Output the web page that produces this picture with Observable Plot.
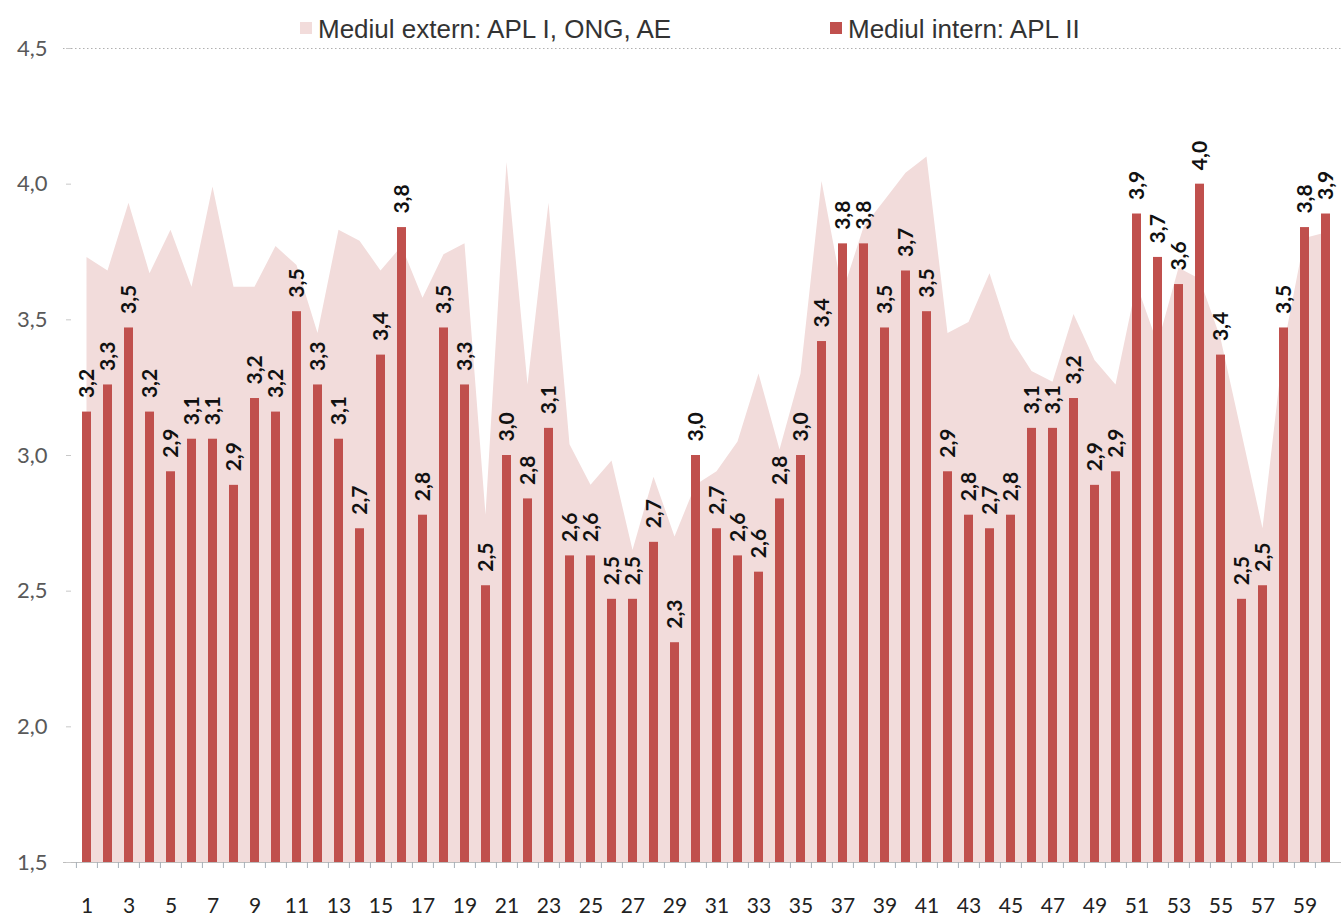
<!DOCTYPE html>
<html><head><meta charset="utf-8">
<script src="https://cdn.jsdelivr.net/npm/d3@7"></script>
<script src="https://cdn.jsdelivr.net/npm/@observablehq/plot@0.6"></script>
<style>
body{margin:0;background:#fff;}
#wrap{position:relative;width:1341px;height:918px;overflow:hidden;}
.sw{position:absolute;top:22px;width:12px;height:12px;}
.lt{position:absolute;top:16px;font-family:"Liberation Sans",Arial,sans-serif;font-size:26px;line-height:26px;color:#333;white-space:nowrap;}
#chart{position:absolute;left:0;top:0;}
</style></head><body>
<div id="wrap">
  <div id="chart"></div>
  <div class="sw" id="sw1" style="left:300px;"></div><div class="lt" id="lt1" style="left:318px;"></div>
  <div class="sw" id="sw2" style="left:830px;"></div><div class="lt" id="lt2" style="left:848px;"></div>
</div>
<script>
const categories = [1,2,3,4,5,6,7,8,9,10,11,12,13,14,15,16,17,18,19,20,21,22,23,24,25,26,27,28,29,30,
  31,32,33,34,35,36,37,38,39,40,41,42,43,44,45,46,47,48,49,50,51,52,53,54,55,56,57,58,59,60];
const xTickLabels = [1,3,5,7,9,11,13,15,17,19,21,23,25,27,29,31,33,35,37,39,41,43,45,47,49,51,53,55,57,59];
const yTicks = [1.5,2.0,2.5,3.0,3.5,4.0,4.5];
const seriesNames = ["Mediul extern: APL I, ONG, AE", "Mediul intern: APL II"];
// Mediul extern (area)
const extern = [3.73,3.68,3.93,3.67,3.83,3.62,3.99,3.62,3.62,3.77,
  3.70,3.45,3.83,3.79,3.68,3.77,3.58,3.74,3.78,2.78,
  4.08,3.26,3.93,3.04,2.89,2.98,2.65,2.92,2.70,2.89,
  2.94,3.05,3.30,3.02,3.30,4.01,3.60,3.84,3.94,4.04,
  4.10,3.45,3.49,3.67,3.43,3.31,3.27,3.52,3.35,3.26,
  3.63,3.41,3.69,3.65,3.43,3.08,2.73,3.40,3.80,3.82];
// Mediul intern (bars)
const intern = [3.16,3.26,3.47,3.16,2.94,3.06,3.06,2.89,3.21,3.16,
  3.53,3.26,3.06,2.73,3.37,3.84,2.78,3.47,3.26,2.52,
  3.00,2.84,3.10,2.63,2.63,2.47,2.47,2.68,2.31,3.00,
  2.73,2.63,2.57,2.84,3.00,3.42,3.78,3.78,3.47,3.68,
  3.53,2.94,2.78,2.73,2.78,3.10,3.10,3.21,2.89,2.94,
  3.89,3.73,3.63,4.00,3.37,2.47,2.52,3.47,3.84,3.89];
const colors = ["#f2dcdb", "#c0504d"];

document.getElementById("sw1").style.background = colors[0];
document.getElementById("sw2").style.background = colors[1];
document.getElementById("lt1").textContent = seriesNames[0];
document.getElementById("lt2").textContent = seriesNames[1];

const data = categories.map((c, i) => ({cat: c, ext: extern[i], int: intern[i]}));
const yMin = yTicks[0], yMax = yTicks[yTicks.length - 1];
const W = 1341, H = 918, mL = 71, mR = 0;
const step = (W - mL - mR) / categories.length;
const fmt = d3.formatLocale({decimal: ",", thousands: ".", grouping: [3], currency: ["", ""]}).format(".1f");

const chart = Plot.plot({
  width: W, height: H, marginLeft: mL, marginRight: mR, marginTop: 48, marginBottom: 56,
  style: {fontFamily: "Lato, sans-serif", background: "#fff", overflow: "visible"},
  x: {type: "band", domain: categories, paddingInner: 0.57, paddingOuter: 0.285, axis: null, label: null},
  y: {domain: [yMin, yMax], axis: null, label: null},
  marks: [
    Plot.areaY(data, {x: "cat", y1: yMin, y2: "ext", fill: colors[0]}),
    Plot.ruleY([yMax], {stroke: "#b0b0b0", strokeDasharray: "1.5,2.5", insetLeft: -8}),
    Plot.barY(data, {x: "cat", y1: yMin, y2: "int", fill: colors[1]}),
    Plot.text(data, {x: "cat", y: "int", text: d => fmt(d.int), rotate: -90, textAnchor: "start",
      dy: -14, fontSize: 21, fontWeight: "bold", fill: "#111"}),
    Plot.ruleY([yMin], {stroke: "#bdbdbd", insetLeft: -8}),
    Plot.axisY({ticks: yTicks, tickFormat: fmt, tickSize: 0, tickPadding: 24, fontSize: 22, fill: "#595959", label: null}),
    Plot.axisY({ticks: yTicks, text: null, tickSize: 5, stroke: "#c8c8c8", label: null}),
    Plot.axisX({ticks: xTickLabels, tickSize: 0, tickPadding: 36, fontSize: 21, fill: "#222", label: null}),
    Plot.axisX({ticks: categories, text: null, tickSize: 6, stroke: "#a8b0b8", dx: -step / 2, label: null})
  ]
});
document.getElementById("chart").appendChild(chart);
</script>
</body></html>
